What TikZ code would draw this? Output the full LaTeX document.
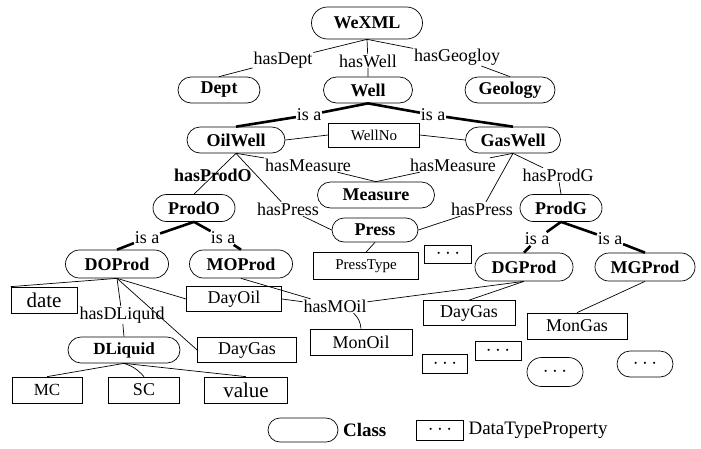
\documentclass[tikz,border=0pt]{standalone}
\usepackage{fontspec}
\setmainfont{Liberation Serif}
\usetikzlibrary{shapes.misc}
\newcommand\fsz[1]{\fontsize{#1}{#1}\selectfont}

\begin{document}
\begin{tikzpicture}[x=1pt, y=-1pt, line width=0.7pt,
  cls/.style={draw, rounded rectangle, inner sep=0pt, minimum height=26pt, font=\fsz{18}\bfseries},
  dtp/.style={draw, rectangle, inner sep=0pt, minimum height=25pt, font=\fsz{18}},
  lbl/.style={fill=white, inner sep=0.5pt, font=\fsz{18}},
  isa/.style={line width=2.6pt}]
  \useasboundingbox (0,0) rectangle (701,448);

  %--- classes
  \node[cls, minimum width=111, minimum height=32] (WeXML) at (367,23) {WeXML};
  \node[cls, minimum width=82] (Dept) at (219,90) {Dept};
  \node[cls, minimum width=89] (Well) at (368,90) {Well};
  \node[cls, minimum width=90] (Geology) at (510,90) {Geology};
  \node[cls, minimum width=98] (OilWell) at (236,140) {OilWell};
  \node[cls, minimum width=95] (GasWell) at (513,140) {GasWell};
  \node[cls, minimum width=117] (Measure) at (376,195) {Measure};
  \node[cls, minimum width=86, minimum height=24] (Press) at (375,230) {Press};
  \node[cls, minimum width=82, minimum height=27] (ProdO) at (194,208) {ProdO};
  \node[cls, minimum width=82, minimum height=27] (ProdG) at (561,208) {ProdG};
  \node[cls, minimum width=103, minimum height=28] (DOProd) at (117,264) {DOProd};
  \node[cls, minimum width=103, minimum height=28] (MOProd) at (241,264) {MOProd};
  \node[cls, minimum width=98, minimum height=28] (DGProd) at (524,267) {DGProd};
  \node[cls, minimum width=100, minimum height=28] (MGProd) at (645,267) {MGProd};
  \node[cls, minimum width=112, font=\fsz{17}\bfseries] (DLiquid) at (124,350) {DLiquid};
  \node[cls, minimum width=56, minimum height=29, font=\fsz{20}] (moreA) at (555,372) {$\cdots$};
  \node[cls, minimum width=56, font=\fsz{20}] (moreB) at (645,364) {$\cdots$};

  %--- datatype properties
  \node[dtp, minimum width=91, minimum height=24, font=\fsz{15}] (WellNo) at (374,135) {WellNo};
  \node[dtp, minimum width=105, minimum height=27, font=\fsz{15}] (PressType) at (366,266) {PressType};
  \node[dtp, minimum width=47, minimum height=18, font=\fsz{20}] (etcA) at (448,254) {$\cdots$};
  \node[dtp, minimum width=66, minimum height=26, font=\fsz{21}] (date) at (44,300) {date};
  \node[dtp, minimum width=95] (DayOil) at (234,299) {DayOil};
  \node[dtp, minimum width=99] (DayGasL) at (247,350) {DayGas};
  \node[dtp, minimum width=70, minimum height=26, font=\fsz{17}] (MC) at (47,390) {MC};
  \node[dtp, minimum width=71, minimum height=26] (SC) at (144,390) {SC};
  \node[dtp, minimum width=83, minimum height=26, font=\fsz{21}] (value) at (246,390) {value};
  \node[dtp, minimum width=102, minimum height=26] (MonOil) at (361,342) {MonOil};
  \node[dtp, minimum width=92] (DayGasR) at (469,313) {DayGas};
  \node[dtp, minimum width=100, minimum height=26] (MonGas) at (577,326) {MonGas};
  \node[dtp, minimum width=45, minimum height=19, font=\fsz{20}] (etcB) at (445,364) {$\cdots$};
  \node[dtp, minimum width=46, minimum height=19, font=\fsz{20}] (etcC) at (498,351) {$\cdots$};

  %--- property labels
  \node[lbl] (hasDept) at (283,60) {hasDept};
  \node[lbl] (hasWell) at (368,61) {hasWell};
  \node[lbl] (hasGeo) at (457,57) {hasGeogloy};
  \node[lbl] (isaA) at (309,115) {is a};
  \node[lbl] (isaB) at (433,115) {is a};
  \node[lbl] (hmL) at (308,165) {hasMeasure};
  \node[lbl] (hmR) at (453,165) {hasMeasure};
  \node[lbl] (hpL) at (288,209) {hasPress};
  \node[lbl] (hpR) at (482,209) {hasPress};
  \node[lbl] (hasProdG) at (558,175) {hasProdG};
  \node[lbl] (isaC) at (147,238) {is a};
  \node[lbl] (isaD) at (223,238) {is a};
  \node[lbl] (isaE) at (537,239) {is a};
  \node[lbl] (isaF) at (610,239) {is a};
  \node[lbl] (hasDLiquid) at (122,315) {hasDLiquid};
  \node[lbl] (hasMOil) at (335,306) {hasMOil};

  %--- top level
  \draw (WeXML.south) -- (hasDept) -- (Dept.north);
  \draw (WeXML.south) -- (hasWell) -- (Well.north);
  \draw (WeXML.south) -- (hasGeo) -- (Geology.north);
  \draw[isa] (Well.south) -- (isaA) -- (OilWell.north);
  \draw[isa] (Well.south) -- (isaB) -- (GasWell.north);
  \draw (OilWell.east) -- (WellNo.west);
  \draw (WellNo.east) -- (GasWell.west);

  %--- measures and production
  \draw (OilWell.south) -- (hmL) -- (Measure.north);
  \draw (GasWell.south) -- (hmR) -- (Measure.north);
  \draw (OilWell.south) -- (hpL) -- (Press.west);
  \draw (GasWell.south) -- (hpR) -- (Press.east);
  \draw (Press.south) -- (PressType.north);
  \draw (OilWell.south) -- node[pos=0.55, font=\fsz{18}\bfseries] (hasProdO) {hasProdO} (ProdO.north);
  \draw (GasWell.south) -- (hasProdG) -- (ProdG.north);
  \draw[isa] (ProdO.south) -- (isaC) -- (DOProd.north);
  \draw[isa] (ProdO.south) -- (isaD) -- (MOProd.north);
  \draw[isa] (ProdG.south) -- (isaE) -- (DGProd.north);
  \draw[isa] (ProdG.south) -- (isaF) -- (MGProd.north);

  %--- bottom level
  \draw (DOProd.south) -- (date.north west);
  \draw (DOProd.south) -- (hasDLiquid) -- (DLiquid.north);
  \draw (DOProd.south) -- (DayOil.west);
  \draw (DOProd.south) -- (DayGasL.west);
  \draw (DLiquid.south) -- (MC.north);
  \draw (DLiquid.south) to[bend left=15] (SC.north);
  \draw (DLiquid.south) -- (value.north);
  \draw (MOProd.south) -- (hasMOil);
  \draw (DayOil.east) -- (hasMOil);
  \draw (DGProd.south) -- (hasMOil);
  \draw (hasMOil) to[bend left=20] (MonOil.north);
  \draw (DGProd.south) -- (DayGasR.north);
  \draw (MGProd.south) -- (MonGas.north);

  %--- legend
  \node[cls, minimum width=70, minimum height=24] (legCls) at (303,430) {};
  \node[font=\fsz{19}\bfseries, right=1pt] (legClsTxt) at (legCls.east) {Class};
  \node[dtp, minimum width=47, minimum height=20, font=\fsz{20}] (legDtp) at (440,430) {$\cdots$};
  \node[font=\fsz{19}, right=1pt] (legDtpTxt) at (legDtp.east) {DataTypeProperty};
\end{tikzpicture}
\end{document}
